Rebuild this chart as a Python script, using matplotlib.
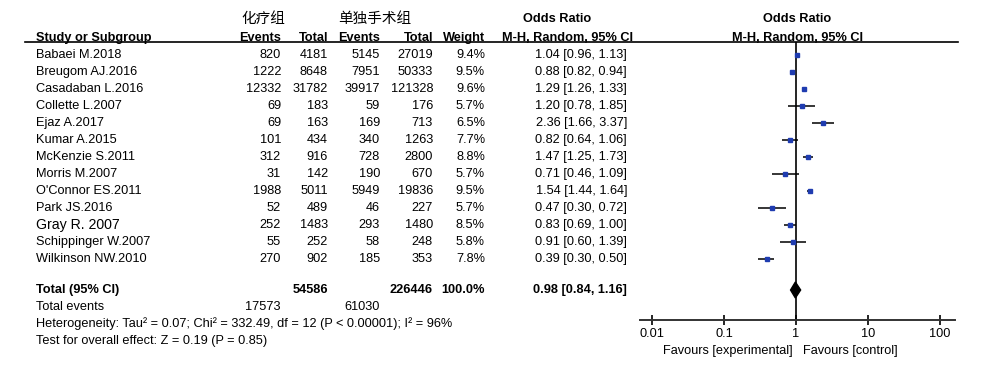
import numpy as np
import matplotlib.pyplot as plt

plt.rcParams['font.family'] = ['Liberation Sans', 'DejaVu Sans']

studies = ['Babaei M.2018', 'Breugom AJ.2016', 'Casadaban L.2016', 'Collette L.2007', 'Ejaz A.2017',
           'Kumar A.2015', 'McKenzie S.2011', 'Morris M.2007', "O'Connor ES.2011", 'Park JS.2016',
           'Gray R. 2007', 'Schippinger W.2007', 'Wilkinson NW.2010']
exp_events = [820, 1222, 12332, 69, 69, 101, 312, 31, 1988, 52, 252, 55, 270]
exp_total = [4181, 8648, 31782, 183, 163, 434, 916, 142, 5011, 489, 1483, 252, 902]
ctl_events = [5145, 7951, 39917, 59, 169, 340, 728, 190, 5949, 46, 293, 58, 185]
ctl_total = [27019, 50333, 121328, 176, 713, 1263, 2800, 670, 19836, 227, 1480, 248, 353]
weights = [9.4, 9.5, 9.6, 5.7, 6.5, 7.7, 8.8, 5.7, 9.5, 5.7, 8.5, 5.8, 7.8]
odds = [1.04, 0.88, 1.29, 1.20, 2.36, 0.82, 1.47, 0.71, 1.54, 0.47, 0.83, 0.91, 0.39]
ci_low = [0.96, 0.82, 1.26, 0.78, 1.66, 0.64, 1.25, 0.46, 1.44, 0.30, 0.69, 0.60, 0.30]
ci_high = [1.13, 0.94, 1.33, 1.85, 3.37, 1.06, 1.73, 1.09, 1.64, 0.72, 1.00, 1.39, 0.50]

total_or, total_low, total_high = 0.98, 0.84, 1.16
total_n = [54586, 226446]
total_events = [17573, 61030]
heterogeneity = 'Heterogeneity: Tau² = 0.07; Chi² = 332.49, df = 12 (P < 0.00001); I² = 96%'
overall = 'Test for overall effect: Z = 0.19 (P = 0.85)'
xticks = [0.01, 0.1, 1, 10, 100]

fs = 9.2
fig = plt.figure(figsize=(10, 3.65), dpi=100)
ax = fig.add_axes([0, 0, 1, 1])
ax.set_xlim(0, 1000)
ax.set_ylim(365, 0)
ax.axis('off')

# column right edges (pixels)
cx = {'ev1': 281, 'tot1': 328, 'ev2': 380, 'tot2': 433, 'w': 485, 'ci': 627}

# group headers
cjk = ['Noto Sans CJK SC', 'DejaVu Sans']
ax.text(263, 19, '化疗组', ha='center', va='center', fontsize=10.5, family=cjk)
ax.text(375, 19, '单独手术组', ha='center', va='center', fontsize=10.5, family=cjk)
ax.text(557, 19, 'Odds Ratio', ha='center', va='center', fontsize=fs, weight='bold')
ax.text(797, 19, 'Odds Ratio', ha='center', va='center', fontsize=fs, weight='bold')

hy = 41
hdr = dict(va='baseline', fontsize=fs, weight='bold')
ax.text(36, hy, 'Study or Subgroup', ha='left', **hdr)
ax.text(cx['ev1'], hy, 'Events', ha='right', **hdr)
ax.text(cx['tot1'], hy, 'Total', ha='right', **hdr)
ax.text(cx['ev2'], hy, 'Events', ha='right', **hdr)
ax.text(cx['tot2'], hy, 'Total', ha='right', **hdr)
ax.text(cx['w'], hy, 'Weight', ha='right', **hdr)
ax.text(567, hy, 'M-H, Random, 95% CI', ha='center', **hdr)
ax.text(798, hy, 'M-H, Random, 95% CI', ha='center', **hdr)
ax.plot([25, 958], [hy + 1, hy + 1], color='black', lw=1.2)

row_y = 55 + 17 * np.arange(len(studies))
for i, name in enumerate(studies):
    y = row_y[i]
    kw = dict(va='center', fontsize=fs)
    if name.startswith('Gray'):
        ax.text(36, y, name, ha='left', va='center', fontsize=10.2)
    else:
        ax.text(36, y, name, ha='left', **kw)
    ax.text(cx['ev1'], y, str(exp_events[i]), ha='right', **kw)
    ax.text(cx['tot1'], y, str(exp_total[i]), ha='right', **kw)
    ax.text(cx['ev2'], y, str(ctl_events[i]), ha='right', **kw)
    ax.text(cx['tot2'], y, str(ctl_total[i]), ha='right', **kw)
    ax.text(cx['w'], y, f'{weights[i]:.1f}%', ha='right', **kw)
    ax.text(cx['ci'], y, f'{odds[i]:.2f} [{ci_low[i]:.2f}, {ci_high[i]:.2f}]', ha='right', **kw)

ty = 290
bk = dict(va='center', fontsize=fs, weight='bold')
ax.text(36, ty, 'Total (95% CI)', ha='left', **bk)
ax.text(cx['tot1'], ty, str(total_n[0]), ha='right', **bk)
ax.text(cx['tot2'], ty, str(total_n[1]), ha='right', **bk)
ax.text(cx['w'], ty, '100.0%', ha='right', **bk)
ax.text(cx['ci'], ty, f'{total_or:.2f} [{total_low:.2f}, {total_high:.2f}]', ha='right', **bk)

ax.text(36, 307, 'Total events', ha='left', va='center', fontsize=fs)
ax.text(cx['ev1'], 307, str(total_events[0]), ha='right', va='center', fontsize=fs)
ax.text(cx['ev2'], 307, str(total_events[1]), ha='right', va='center', fontsize=fs)
ax.text(36, 324, heterogeneity, ha='left', va='center', fontsize=fs)
ax.text(36, 341, overall, ha='left', va='center', fontsize=fs)

ax.text(793, 351, 'Favours [experimental]', ha='right', va='center', fontsize=fs)
ax.text(803, 351, 'Favours [control]', ha='left', va='center', fontsize=fs)

# forest panel, pixel-aligned vertically
x0, x1, y_top, y_axis = 640, 955, hy + 1, 320
fa = fig.add_axes([x0 / 1000, 1 - y_axis / 365, (x1 - x0) / 1000, (y_axis - y_top) / 365])
fa.set_xscale('log')
fa.set_xlim(10 ** (-2 - 12 / 72), 10 ** (2 + 15 / 72))
fa.set_ylim(y_axis, y_top)
fa.patch.set_alpha(0)
for s in ['top', 'left', 'right']:
    fa.spines[s].set_visible(False)
fa.spines['bottom'].set_linewidth(1.4)
fa.spines['bottom'].set_color('#333333')
fa.set_yticks([])
fa.set_xticks(xticks)
fa.set_xticklabels(['0.01', '0.1', '1', '10', '100'], fontsize=fs)
fa.minorticks_off()
fa.tick_params(axis='x', direction='inout', length=7, width=1.2, pad=2)
fa.axvline(1, color='black', lw=1.2)

fa.hlines(row_y, ci_low, ci_high, color='black', lw=1.1)
for i in range(len(studies)):
    fa.plot(odds[i], row_y[i], marker='s', ms=1.6 + weights[i] * 0.12, color='#1f3cb0', mec='#1f3cb0')

diamond_x = [total_low, total_or, total_high, total_or]
diamond_y = [ty, ty - 8, ty, ty + 8]
fa.fill(diamond_x, diamond_y, color='black')

fig.savefig('out.png', dpi=100)
